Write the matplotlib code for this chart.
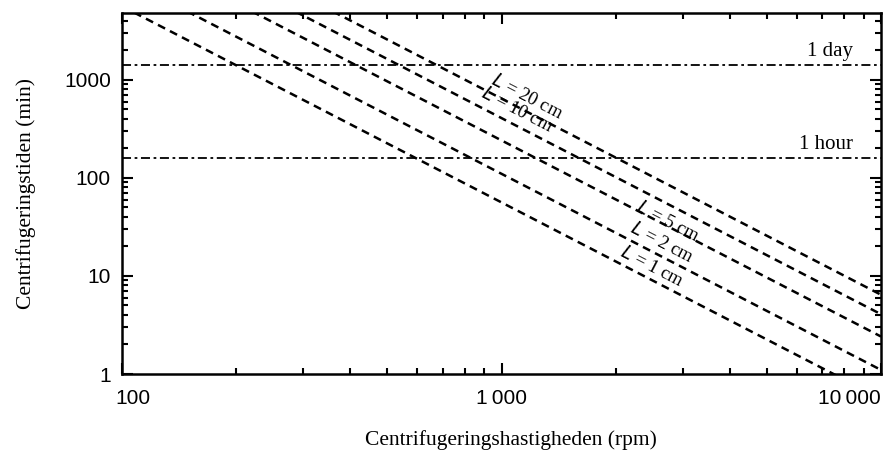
"""Centrifugation time vs speed, log-log chart."""

import numpy as np
import matplotlib
matplotlib.use("Agg")
import matplotlib.pyplot as plt
import matplotlib.transforms as mtransforms
from matplotlib.ticker import FixedLocator, LogLocator, NullFormatter

# sedimentation lines: time (min) read at 100 rpm and at 10 000 rpm
line_labels = ["L = 1 cm", "L = 2 cm", "L = 5 cm", "L = 10 cm", "L = 20 cm"]
rpm_ends = [100, 10000]
time_at_100 = [5620, 11000, 24100, 40700, 64300]
time_at_10000 = [0.562, 1.10, 2.41, 4.07, 6.43]

# where each label sits (rpm, min)
label_rpm = [2495, 2650, 2750, 1099, 1167]
label_time = [12.4, 21.7, 35.6, 494, 671]

# reference times
ref_labels = ["1 day", "1 hour"]
ref_times = [1400, 160]

x_ticks = [100, 1000, 10000]
x_ticklabels = ["100", "1\u2009000", "10\u2009000"]
y_ticks = [1, 10, 100, 1000]
y_ticklabels = ["1", "10", "100", "1000"]

serif = ["Liberation Serif", "DejaVu Serif"]
sans = ["Liberation Sans", "DejaVu Sans"]

fig = plt.figure(figsize=(8.93, 4.54), dpi=100)
ax = fig.add_axes([0.1366, 0.1762, 0.85, 0.7952])

for t0, t1 in zip(time_at_100, time_at_10000):
    ax.plot(rpm_ends, [t0, t1], color="black", lw=1.8,
            linestyle=(0, (3.2, 2.2)), solid_capstyle="butt")

for t in ref_times:
    ax.plot(rpm_ends, [t, t], color="black", lw=1.3,
            linestyle=(0, (5, 2, 1.5, 2)))

ax.set_xscale("log")
ax.set_yscale("log")
ax.set_xlim(100, 10000)
ax.set_ylim(1, 4800)

# rotation of the sloped labels, matching the slope on screen
fig.canvas.draw()
p0 = ax.transData.transform((1000, 100))
p1 = ax.transData.transform((10000, 1))
angle = np.degrees(np.arctan2(p1[1] - p0[1], p1[0] - p0[0]))

for lab, xr, yt in zip(line_labels, label_rpm, label_time):
    rest = lab.split(" = ")[1]
    ax.text(xr, yt, "$\\it{L}$ = " + rest, rotation=angle,
            rotation_mode="anchor", ha="center", va="center",
            fontsize=13.5, family=serif)

for lab, t in zip(ref_labels, ref_times):
    ax.annotate(lab, xy=(1, t), xycoords=("axes fraction", "data"),
                xytext=(-20, 3), textcoords="offset points",
                ha="right", va="bottom", fontsize=15, family=serif)

ax.xaxis.set_major_locator(FixedLocator(x_ticks))
ax.set_xticklabels(x_ticklabels, family=sans, fontsize=15)
ax.yaxis.set_major_locator(FixedLocator(y_ticks))
ax.set_yticklabels(y_ticklabels, family=sans, fontsize=15)
ax.xaxis.set_minor_locator(LogLocator(base=10, subs=range(2, 10)))
ax.yaxis.set_minor_locator(LogLocator(base=10, subs=range(2, 10)))
ax.xaxis.set_minor_formatter(NullFormatter())
ax.yaxis.set_minor_formatter(NullFormatter())

ax.tick_params(which="both", direction="in", top=True, right=True, width=1.5)
ax.tick_params(which="major", length=8)
ax.tick_params(which="minor", length=4)
ax.tick_params(axis="x", which="major", pad=11)
ax.tick_params(axis="y", which="major", pad=8)
for sp in ax.spines.values():
    sp.set_linewidth(1.8)

xt = ax.get_xticklabels()
xt[0].set_transform(xt[0].get_transform() + mtransforms.ScaledTranslation(8 / 72, 0, fig.dpi_scale_trans))
xt[-1].set_ha("right")

ax.set_xlabel("Centrifugeringshastigheden (rpm)", family=serif, fontsize=15.5)
ax.set_ylabel("Centrifugeringstiden (min)", family=serif, fontsize=15.5)
ax.xaxis.set_label_coords(0.513, -0.155)
ax.yaxis.set_label_coords(-0.113, 0.5)

fig.savefig("out.png", dpi=100)
